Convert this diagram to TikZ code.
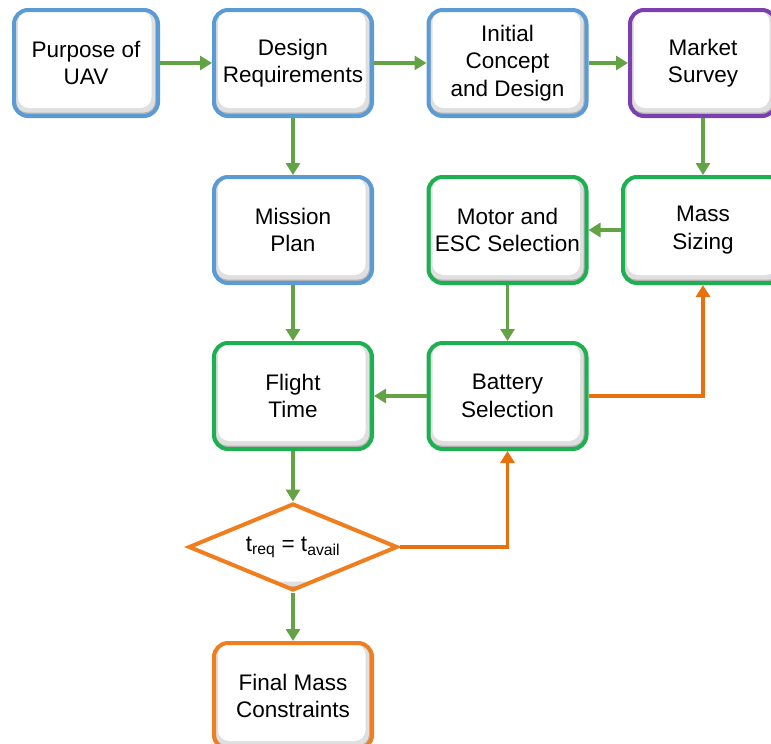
\documentclass[tikz,border=0pt]{standalone}
\usepackage{fontspec}
\setmainfont{Liberation Sans}
\usetikzlibrary{shapes.geometric,arrows.meta,calc}
\definecolor{bblue}{HTML}{5B9BD5}
\definecolor{bgreen}{HTML}{1DB050}
\definecolor{bpurple}{HTML}{7B3FB0}
\definecolor{borange}{HTML}{F07E1E}
\definecolor{agreen}{HTML}{64A345}
\definecolor{aorange}{HTML}{E8700E}
\tikzset{
  innershadow/.style={path picture={
    \fill[gray!60] (path picture bounding box.south west) rectangle (path picture bounding box.north east);
    \fill[gray!25, rounded corners=11pt] ($(path picture bounding box.south west)+(2pt,3.5pt)$) rectangle ($(path picture bounding box.north east)+(-3pt,-0.5pt)$);
    \fill[white, rounded corners=11pt] ($(path picture bounding box.south west)+(4pt,8pt)$) rectangle ($(path picture bounding box.north east)+(-6.5pt,-1pt)$);
  }},
  box/.style={draw=#1, rounded corners=14pt, line width=4pt, minimum width=158pt,
    minimum height=106pt, align=center, inner sep=0pt, fill=white, innershadow,
    font=\fontsize{22.5}{27.5}\selectfont},
  dia/.style={draw=borange, diamond, aspect=2.4, line width=4pt, minimum width=209pt, minimum height=87pt,
    inner sep=0pt, fill=white, innershadow, font=\fontsize{22.5}{27.5}\selectfont},
  garrow/.style={draw=agreen, line width=3.2pt, -{Triangle[length=12pt,width=14pt]}},
  oarrow/.style={draw=aorange, line width=3.4pt, -{Triangle[length=12pt,width=14pt]}},
}
\begin{document}
\begin{tikzpicture}[x=1pt,y=-1pt]
\useasboundingbox (0,0) rectangle (771,744);
\node[box=bblue, minimum width=144pt] (purpose) at (86,63) {Purpose of\\UAV};
\node[box=bblue] (design) at (293,63) {Design\\Requirements};
\node[box=bblue] (initial) at (507.5,63) {Initial\\Concept\\and Design};
\node[box=bpurple, minimum width=146pt] (market) at (703,63) {Market\\Survey};
\node[box=bblue] (mission) at (293,230) {Mission\\Plan};
\node[box=bgreen] (motor) at (507.5,230) {Motor and\\ESC Selection};
\node[box=bgreen, minimum width=160pt] (mass) at (703,230) {Mass\\Sizing};
\node[box=bgreen] (flight) at (293,396) {Flight\\Time};
\node[box=bgreen] (battery) at (507.5,396) {Battery\\Selection};
\node[dia] (cond) at (293,547) {t\textsubscript{req} = t\textsubscript{avail}};
\node[box=borange] (final) at (293,696) {Final Mass\\Constraints};

\draw[garrow] (purpose) -- (design);
\draw[garrow] (design) -- (initial);
\draw[garrow] (initial) -- (market);
\draw[garrow] (design) -- (mission);
\draw[garrow] (market) -- (mass);
\draw[garrow] (mass) -- (motor);
\draw[garrow] (mission) -- (flight);
\draw[garrow] (motor) -- (battery);
\draw[garrow] (battery) -- (flight);
\draw[garrow] (flight.south) -- (cond.north);
\draw[garrow] (cond.south) -- (final.north);
\draw[oarrow] (battery.east) -| (mass.south);
\draw[oarrow] (cond.east) -| (battery.south);
\end{tikzpicture}
\end{document}
